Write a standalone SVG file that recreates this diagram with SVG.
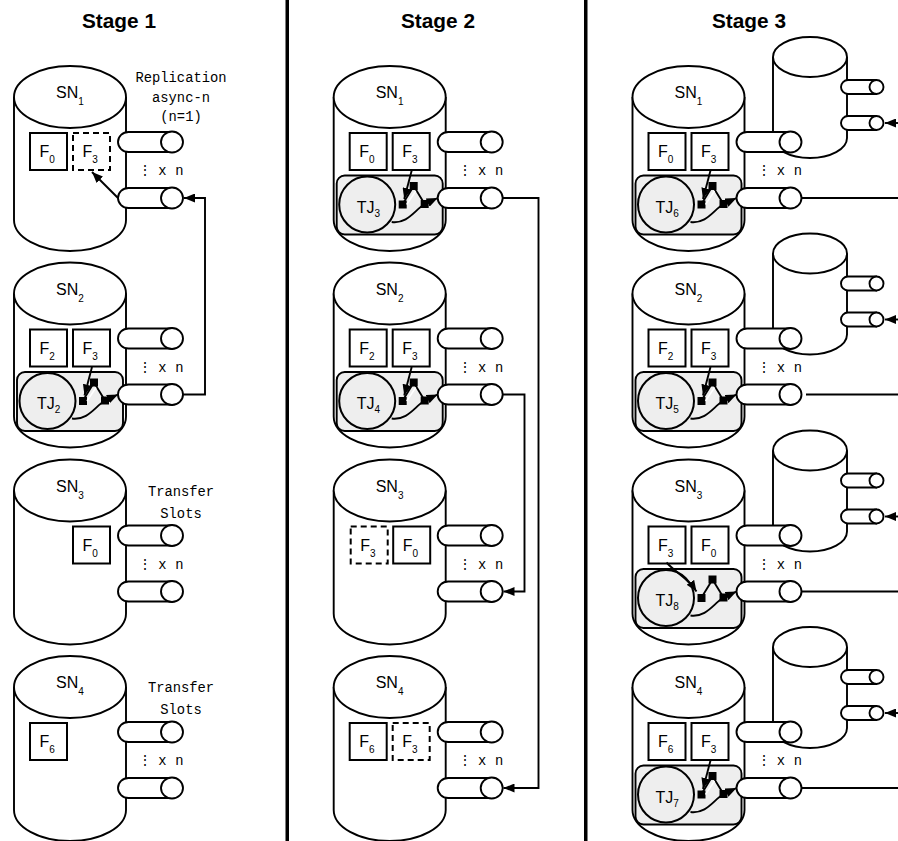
<svg xmlns="http://www.w3.org/2000/svg" width="898" height="841" viewBox="0 0 898 841">
<style>
text{fill:#000;font-family:"Liberation Sans",Arial,sans-serif}
.title{font-size:20.8px;font-weight:bold;text-anchor:middle}
.n{font-size:16px}
.sub{font-size:10px}
.m{font-family:"Liberation Mono","DejaVu Sans Mono",monospace;font-size:13.8px}
.c{text-anchor:middle}
.s{fill:#fff;stroke:#000;stroke-width:1.9}
.f{fill:#fff;stroke:#000;stroke-width:2}
.d{fill:#fff;stroke:#000;stroke-width:2;stroke-dasharray:6 4}
.l{fill:none;stroke:#000;stroke-width:1.9}
.a{fill:none;stroke:#000;stroke-width:1.9;marker-end:url(#ah)}
.b{fill:#000}
</style>
<defs>
<marker id="ah" viewBox="0 0 11 9" refX="11" refY="4.500" markerWidth="11" markerHeight="9" markerUnits="userSpaceOnUse" orient="auto"><path d="M0 0L11 4.500L0 9Z" fill="#000"/></marker>
<g id="cyl"><path class="s" d="M14 97V220A56 31 0 0 0 126 220V97"/><ellipse class="s" cx="70" cy="97" rx="56" ry="31"/></g>
<g id="port"><path class="s" d="M172 132H128.500A10.500 10 0 0 0 128.500 152H172Z"/><ellipse class="s" cx="172" cy="142" rx="11" ry="10.500"/></g>
<g id="ports"><use href="#port"/><use href="#port" y="56"/></g>
<g id="tj">
<rect x="17" y="175.500" width="106" height="59" rx="8" fill="#eee" stroke="#000" stroke-width="1.900"/>
<circle cx="47.500" cy="204.500" r="28" fill="#eee" stroke="#000" stroke-width="2"/>
<path class="l" d="M72 222C88 224 95 210 105 204"/>
<path class="l" d="M83 204L94 186L105 204"/>
<rect class="b" x="79" y="200.500" width="8" height="8"/>
<rect class="b" x="90" y="182" width="8" height="8"/>
<rect class="b" x="101" y="200" width="8" height="8"/>
<path class="a" d="M105 204L118 198"/>
</g>
<g id="tjw"><use href="#tj"/><path d="M87 204.500L96 191" fill="none" stroke="#fff" stroke-width="1.500"/></g>
<path id="fa" class="a" d="M92 170.500L84.500 199"/>
<g id="back">
<path class="s" d="M773 57V138A37 20 0 0 0 847 138V57"/><ellipse class="s" cx="810" cy="57" rx="37" ry="20"/>
<path class="s" d="M876 80H848A7 7 0 0 0 848 94H876Z"/><ellipse class="s" cx="876.500" cy="87" rx="7" ry="7"/>
<path class="s" d="M876 116H848A7 7 0 0 0 848 130H876Z"/><ellipse class="s" cx="876.500" cy="123" rx="7" ry="7"/>
<path class="a" d="M898 123H885"/>
</g>
</defs>
<rect width="898" height="841" fill="#fff"/>
<g id="headers">
<text class="title" x="119" y="28">Stage 1</text>
<text class="title" x="438" y="28">Stage 2</text>
<text class="title" x="749" y="28">Stage 3</text>
<rect x="285.500" y="0" width="3.500" height="841" fill="#000"/>
<rect x="584" y="0" width="3.500" height="841" fill="#000"/>
</g>
<g id="s1-sn1"><use href="#cyl"/><use href="#ports"/>
<text class="n" x="56" y="98">SN<tspan class="sub" dy="7">1</tspan></text>
<rect class="f" x="30" y="133" width="37" height="37"/><text class="n" x="39.500" y="157">F<tspan class="sub" dy="6">0</tspan></text>
<rect class="d" x="73" y="133" width="37" height="37"/><text class="n" x="82.500" y="157">F<tspan class="sub" dy="6">3</tspan></text>
<text class="m c" x="181" y="82">Replication</text><text class="m c" x="181" y="102">async-n</text><text class="m c" x="181" y="121">(n=1)</text>
<text class="m" x="138 146 158.300 166.500 175.300" y="175">⋮ x n</text></g>
<g id="s1-sn2" transform="translate(0 196.500)"><use href="#cyl"/><use href="#tjw"/><use href="#ports"/>
<text class="n" x="56" y="98">SN<tspan class="sub" dy="7">2</tspan></text>
<rect class="f" x="30" y="133" width="37" height="37"/><text class="n" x="39.500" y="157">F<tspan class="sub" dy="6">2</tspan></text>
<rect class="f" x="73" y="133" width="37" height="37"/><text class="n" x="82.500" y="157">F<tspan class="sub" dy="6">3</tspan></text>
<use href="#fa"/>
<text class="n" x="37" y="212.500">TJ<tspan class="sub" dy="4">2</tspan></text>
<text class="m" x="138 146 158.300 166.500 175.300" y="175">⋮ x n</text></g>
<g id="s1-sn3" transform="translate(0 393.500)"><use href="#cyl"/><use href="#ports"/>
<text class="n" x="56" y="98">SN<tspan class="sub" dy="7">3</tspan></text>
<rect class="f" x="73" y="133" width="37" height="37"/><text class="n" x="82.500" y="157">F<tspan class="sub" dy="6">0</tspan></text>
<text class="m c" x="181" y="102">Transfer</text><text class="m c" x="181" y="124">Slots</text>
<text class="m" x="138 146 158.300 166.500 175.300" y="175">⋮ x n</text></g>
<g id="s1-sn4" transform="translate(0 590)"><use href="#cyl"/><use href="#ports"/>
<text class="n" x="56" y="98">SN<tspan class="sub" dy="7">4</tspan></text>
<rect class="f" x="30" y="133" width="37" height="37"/><text class="n" x="39.500" y="157">F<tspan class="sub" dy="6">6</tspan></text>
<text class="m c" x="181" y="102">Transfer</text><text class="m c" x="181" y="124">Slots</text>
<text class="m" x="138 146 158.300 166.500 175.300" y="175">⋮ x n</text></g>

<g id="s2-sn1" transform="translate(319.700 0)"><use href="#cyl"/><use href="#tjw"/><use href="#ports"/>
<text class="n" x="56" y="98">SN<tspan class="sub" dy="7">1</tspan></text>
<rect class="f" x="30" y="133" width="37" height="37"/><text class="n" x="39.500" y="157">F<tspan class="sub" dy="6">0</tspan></text>
<rect class="f" x="73" y="133" width="37" height="37"/><text class="n" x="82.500" y="157">F<tspan class="sub" dy="6">3</tspan></text>
<use href="#fa"/>
<text class="n" x="37" y="212.500">TJ<tspan class="sub" dy="4">3</tspan></text>
<text class="m" x="138 146 158.300 166.500 175.300" y="175">⋮ x n</text></g>
<g id="s2-sn2" transform="translate(319.700 196.500)"><use href="#cyl"/><use href="#tjw"/><use href="#ports"/>
<text class="n" x="56" y="98">SN<tspan class="sub" dy="7">2</tspan></text>
<rect class="f" x="30" y="133" width="37" height="37"/><text class="n" x="39.500" y="157">F<tspan class="sub" dy="6">2</tspan></text>
<rect class="f" x="73" y="133" width="37" height="37"/><text class="n" x="82.500" y="157">F<tspan class="sub" dy="6">3</tspan></text>
<use href="#fa"/>
<text class="n" x="37" y="212.500">TJ<tspan class="sub" dy="4">4</tspan></text>
<text class="m" x="138 146 158.300 166.500 175.300" y="175">⋮ x n</text></g>
<g id="s2-sn3" transform="translate(319.700 393.500)"><use href="#cyl"/><use href="#ports"/>
<text class="n" x="56" y="98">SN<tspan class="sub" dy="7">3</tspan></text>
<rect class="d" x="31" y="133" width="37" height="37"/><text class="n" x="40.500" y="157">F<tspan class="sub" dy="6">3</tspan></text>
<rect class="f" x="73.500" y="133" width="37" height="37"/><text class="n" x="83" y="157">F<tspan class="sub" dy="6">0</tspan></text>
<text class="m" x="138 146 158.300 166.500 175.300" y="175">⋮ x n</text></g>
<g id="s2-sn4" transform="translate(319.700 590)"><use href="#cyl"/><use href="#ports"/>
<text class="n" x="56" y="98">SN<tspan class="sub" dy="7">4</tspan></text>
<rect class="f" x="30" y="133" width="37" height="37"/><text class="n" x="39.500" y="157">F<tspan class="sub" dy="6">6</tspan></text>
<rect class="d" x="73" y="133" width="37" height="37"/><text class="n" x="82.500" y="157">F<tspan class="sub" dy="6">3</tspan></text>
<text class="m" x="138 146 158.300 166.500 175.300" y="175">⋮ x n</text></g>

<g id="s3-sn1-back"><use href="#back"/></g>
<g id="s3-sn2-back" transform="translate(0 196.500)"><use href="#back"/></g>
<g id="s3-sn3-back" transform="translate(0 393.500)"><use href="#back"/></g>
<g id="s3-sn4-back" transform="translate(0 590)"><use href="#back"/></g>
<g id="s3-sn1" transform="translate(618.500 0)"><use href="#cyl"/><use href="#tjw"/><use href="#ports"/>
<text class="n" x="56" y="98">SN<tspan class="sub" dy="7">1</tspan></text>
<rect class="f" x="30" y="133" width="37" height="37"/><text class="n" x="39.500" y="157">F<tspan class="sub" dy="6">0</tspan></text>
<rect class="f" x="73" y="133" width="37" height="37"/><text class="n" x="82.500" y="157">F<tspan class="sub" dy="6">3</tspan></text>
<use href="#fa"/>
<text class="n" x="37" y="212.500">TJ<tspan class="sub" dy="4">6</tspan></text>
<text class="m" x="138 146 158.300 166.500 175.300" y="175">⋮ x n</text></g>
<g id="s3-sn2" transform="translate(618.500 196.500)"><use href="#cyl"/><use href="#tjw"/><use href="#ports"/>
<text class="n" x="56" y="98">SN<tspan class="sub" dy="7">2</tspan></text>
<rect class="f" x="30" y="133" width="37" height="37"/><text class="n" x="39.500" y="157">F<tspan class="sub" dy="6">2</tspan></text>
<rect class="f" x="73" y="133" width="37" height="37"/><text class="n" x="82.500" y="157">F<tspan class="sub" dy="6">3</tspan></text>
<use href="#fa"/>
<text class="n" x="37" y="212.500">TJ<tspan class="sub" dy="4">5</tspan></text>
<text class="m" x="138 146 158.300 166.500 175.300" y="175">⋮ x n</text></g>
<g id="s3-sn3" transform="translate(618.500 393.500)"><use href="#cyl"/><use href="#tj"/><use href="#ports"/>
<text class="n" x="56" y="98">SN<tspan class="sub" dy="7">3</tspan></text>
<rect class="f" x="30" y="133" width="37" height="37"/><text class="n" x="39.500" y="157">F<tspan class="sub" dy="6">3</tspan></text>
<rect class="f" x="73" y="133" width="37" height="37"/><text class="n" x="82.500" y="157">F<tspan class="sub" dy="6">0</tspan></text>
<path class="a" d="M48 169C58 180 68 183 78 198"/>
<text class="n" x="37" y="212.500">TJ<tspan class="sub" dy="4">8</tspan></text>
<text class="m" x="138 146 158.300 166.500 175.300" y="175">⋮ x n</text></g>
<g id="s3-sn4" transform="translate(618.500 590)"><use href="#cyl"/><use href="#tjw"/><use href="#ports"/>
<text class="n" x="56" y="98">SN<tspan class="sub" dy="7">4</tspan></text>
<rect class="f" x="30" y="133" width="37" height="37"/><text class="n" x="39.500" y="157">F<tspan class="sub" dy="6">6</tspan></text>
<rect class="f" x="73" y="133" width="37" height="37"/><text class="n" x="82.500" y="157">F<tspan class="sub" dy="6">3</tspan></text>
<use href="#fa"/>
<text class="n" x="37" y="212.500">TJ<tspan class="sub" dy="4">7</tspan></text>
<text class="m" x="138 146 158.300 166.500 175.300" y="175">⋮ x n</text></g>

<g id="connectors">
<path class="a" d="M118 198L92 172"/>
<path class="a" d="M183 394.500H205V198H184"/>
<path class="a" d="M502.700 198H538.500V788H503.500"/>
<path class="a" d="M502.700 394.500H524.500V591.500H503.500"/>
<path class="l" d="M801.500 198H898"/>
<path class="l" d="M806 394.500H898"/>
<path class="l" d="M801.500 591.500H898"/>
<path class="l" d="M801.500 788H898"/>
</g>
</svg>
